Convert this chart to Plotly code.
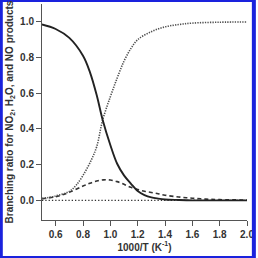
import plotly.graph_objects as go

x_solid = [0.5, 0.6, 0.7, 0.8, 0.85, 0.9, 0.944, 1.0, 1.05, 1.1, 1.15, 1.2, 1.25, 1.3, 1.35, 1.4, 1.5, 1.6, 1.8, 2.0]
y_solid = [0.985, 0.96, 0.91, 0.81, 0.72, 0.59, 0.45, 0.31, 0.205, 0.14, 0.094, 0.052, 0.03, 0.017, 0.01, 0.005, 0.002, 0.0, 0.0, 0.0]

x_dot = [0.5, 0.6, 0.7, 0.75, 0.8, 0.86, 0.9, 0.944, 1.0, 1.05, 1.1, 1.15, 1.2, 1.3, 1.4, 1.5, 1.6, 1.8, 2.0]
y_dot = [0.01, 0.025, 0.05, 0.085, 0.14, 0.225, 0.3, 0.45, 0.58, 0.685, 0.78, 0.85, 0.9, 0.945, 0.972, 0.985, 0.993, 0.998, 0.999]

x_dash = [0.5, 0.6, 0.7, 0.8, 0.85, 0.9, 0.95, 1.0, 1.05, 1.1, 1.15, 1.2, 1.25, 1.3, 1.35, 1.4, 1.5, 1.6, 1.7, 1.8, 2.0]
y_dash = [0.01, 0.02, 0.045, 0.08, 0.096, 0.108, 0.115, 0.114, 0.105, 0.09, 0.073, 0.061, 0.051, 0.044, 0.037, 0.029, 0.019, 0.012, 0.007, 0.004, 0.002]

x_zero = [0.5, 2.0]
y_zero = [0.0, 0.0]

x_ticks = [0.6, 0.8, 1.0, 1.2, 1.4, 1.6, 1.8, 2.0]
y_ticks = [0.0, 0.2, 0.4, 0.6, 0.8, 1.0]

fig = go.Figure()
fig.add_trace(go.Scatter(x=x_zero, y=y_zero, mode="lines",
                         line=dict(color="#333333", width=1.3, dash="1.3px,2px")))
fig.add_trace(go.Scatter(x=x_dash, y=y_dash, mode="lines", line_shape="spline",
                         line=dict(color="#333333", width=1.6, dash="4px,3px")))
fig.add_trace(go.Scatter(x=x_dot, y=y_dot, mode="lines", line_shape="spline",
                         line=dict(color="#505050", width=1.6, dash="1.3px,1.2px")))
fig.add_trace(go.Scatter(x=x_solid, y=y_solid, mode="lines", line_shape="spline",
                         line=dict(color="#222222", width=1.9)))

W, H = 258, 258
ml, mr, mt, mb = 42, 7, 4, 38
pw, ph = W - ml - mr, H - mt - mb

axis_common = dict(showgrid=False, zeroline=False, showline=True, linecolor="#555555",
                   linewidth=1, ticks="outside", ticklen=5, tickcolor="#555555",
                   ticklabeloverflow="allow", tickformat=".1f")

fig.update_layout(
    width=W, height=H,
    margin=dict(l=ml, r=mr, t=mt, b=mb, pad=0),
    paper_bgcolor="white", plot_bgcolor="white",
    showlegend=False,
    font=dict(family="Arial", size=10, color="#333333", weight="bold"),
    xaxis=dict(range=[0.5, 2.0], tickvals=x_ticks, **axis_common,
               title=dict(text="1000/T (K<sup>-1</sup>)", standoff=4,
                          font=dict(family="Arial", size=10, color="#333333", weight="bold"))),
    yaxis=dict(range=[-0.11, 1.1], tickvals=y_ticks, **axis_common,
               title=dict(text="Branching ratio for NO<sub>2</sub>, H<sub>2</sub>O, and NO products",
                          standoff=4,
                          font=dict(family="Arial", size=10, color="#333333", weight="bold"))),
    shapes=[dict(type="rect", xref="paper", yref="paper",
                 x0=-ml / pw, x1=1 + mr / pw, y0=-mb / ph, y1=1 + mt / ph,
                 line=dict(color="#1a22dd", width=4), fillcolor="rgba(0,0,0,0)")],
)

fig.write_html("out.html")
